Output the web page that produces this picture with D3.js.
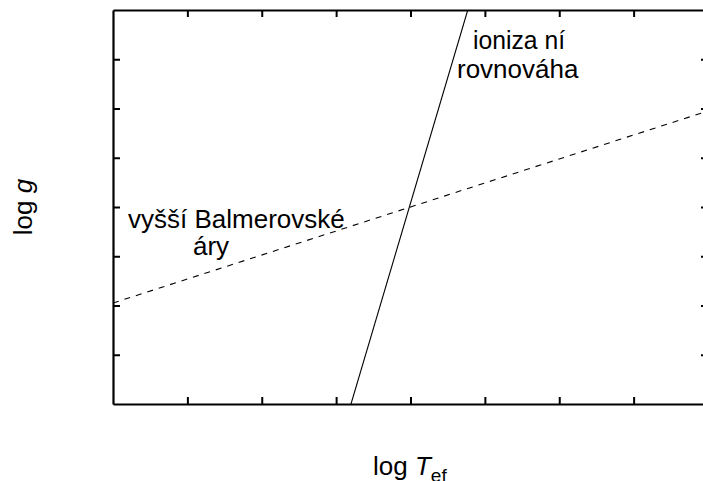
<!DOCTYPE html>
<html>
<head>
<meta charset="utf-8">
<script src="https://cdn.jsdelivr.net/npm/d3@7"></script>
<style>
  html, body { margin: 0; padding: 0; background: #fff; }
  svg { display: block; }
  text { font-family: Arial, "Liberation Sans", Helvetica, sans-serif; fill: #000; }
</style>
</head>
<body>
<svg id="chart" width="703" height="481"></svg>
<script>
// Axis domains (log T_ef horizontally, log g vertically), unlabelled ticks
const xDomain = [0, 8];
const yDomain = [0, 8];
const xTicks = [1, 2, 3, 4, 5, 6, 7];
const yTicks = [1, 2, 3, 4, 5, 6, 7];

// Ionization equilibrium line (solid)
const ionX = [3.2, 4.77];
const ionY = [0, 8];

// Higher Balmer lines criterion (dashed)
const balmerX = [0, 8];
const balmerY = [2.05, 5.95];

const svg = d3.select("#chart");
const plotLeft = 113, plotRight = 708, plotTop = 10, plotBottom = 404;

const x = d3.scaleLinear().domain(xDomain).range([plotLeft, plotRight]);
const y = d3.scaleLinear().domain(yDomain).range([plotBottom, plotTop]);

const tickLen = 7;

// Axes: ticks point inward on all four sides
const axes = [
  { axis: d3.axisBottom(x).tickValues(xTicks).tickSizeInner(-tickLen).tickSizeOuter(0).tickFormat(""), t: `translate(0,${plotBottom})` },
  { axis: d3.axisTop(x).tickValues(xTicks).tickSizeInner(-tickLen).tickSizeOuter(0).tickFormat(""), t: `translate(0,${plotTop})` },
  { axis: d3.axisLeft(y).tickValues(yTicks).tickSizeInner(-tickLen).tickSizeOuter(0).tickFormat(""), t: `translate(${plotLeft},0)` },
  { axis: d3.axisRight(y).tickValues(yTicks).tickSizeInner(-tickLen).tickSizeOuter(0).tickFormat(""), t: `translate(${plotRight},0)` }
];
axes.forEach(a => {
  const g = svg.append("g").attr("transform", a.t).call(a.axis);
  g.select(".domain").attr("stroke", "#000").attr("stroke-width", 2.2);
  g.selectAll(".tick line").attr("stroke", "#000").attr("stroke-width", 2);
});

// Clip the data lines to the frame
svg.append("clipPath").attr("id", "plot")
  .append("rect").attr("x", plotLeft).attr("y", plotTop)
  .attr("width", plotRight - plotLeft).attr("height", plotBottom - plotTop);

const line = d3.line().x(d => x(d[0])).y(d => y(d[1]));

svg.append("path")
  .datum(d3.zip(ionX, ionY))
  .attr("clip-path", "url(#plot)")
  .attr("d", line)
  .attr("fill", "none")
  .attr("stroke", "#000")
  .attr("stroke-width", 1.1);

svg.append("path")
  .datum(d3.zip(balmerX, balmerY))
  .attr("clip-path", "url(#plot)")
  .attr("d", line)
  .attr("fill", "none")
  .attr("stroke", "#000")
  .attr("stroke-width", 1.1)
  .attr("stroke-dasharray", "6,6");

// Annotations
const fs = 26;
svg.append("text").attr("x", 473).attr("y", 49).attr("font-size", fs)
  .style("white-space", "pre")
  .attr("textLength", 92).attr("lengthAdjust", "spacingAndGlyphs")
  .text("ioniza ní");
svg.append("text").attr("x", 457).attr("y", 78).attr("font-size", fs).text("rovnováha");
svg.append("text").attr("x", 128).attr("y", 228).attr("font-size", fs).text("vyšší Balmerovské");
svg.append("text").attr("x", 193).attr("y", 255).attr("font-size", fs).text("áry");

// Axis titles
const xt = svg.append("text").attr("x", 373).attr("y", 475).attr("font-size", fs);
xt.append("tspan").text("log ");
xt.append("tspan").attr("font-style", "italic").text("T");
xt.append("tspan").attr("font-size", 19).attr("dy", 7).text("ef");

const yt = svg.append("text")
  .attr("transform", `translate(32,${y(4)}) rotate(-90)`)
  .attr("font-size", fs).attr("text-anchor", "middle");
yt.append("tspan").text("log ");
yt.append("tspan").attr("font-style", "italic").text("g");
</script>
</body>
</html>
